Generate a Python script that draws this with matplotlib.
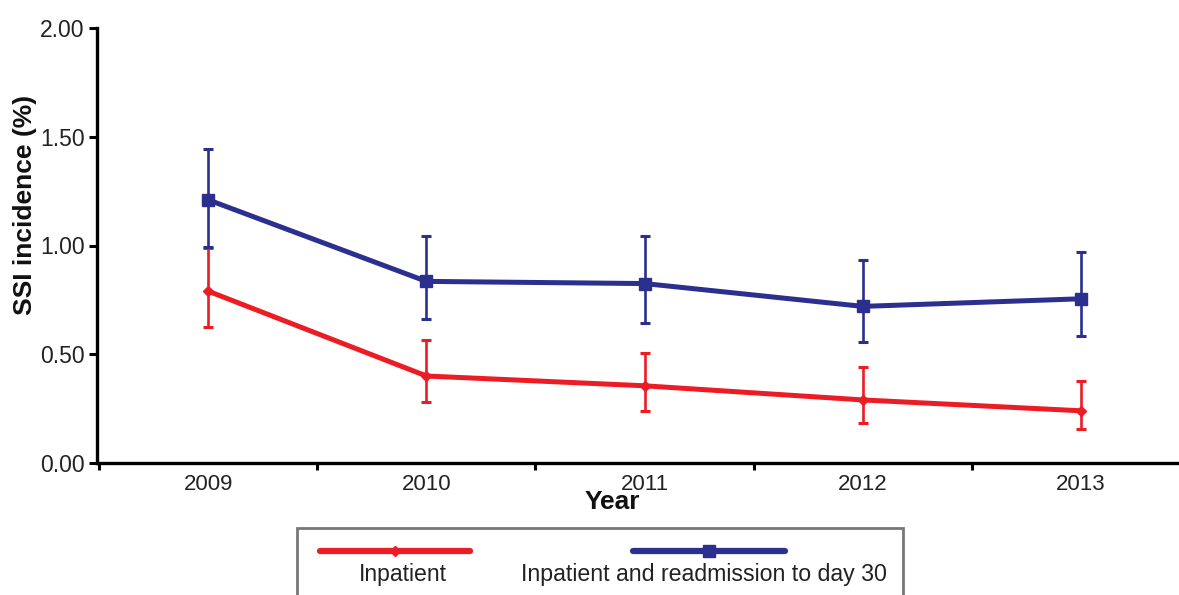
import matplotlib
matplotlib.use("Agg")
import matplotlib.pyplot as plt
from matplotlib.lines import Line2D
from matplotlib.patches import Rectangle

plt.rcParams['font.family'] = ['Liberation Sans', 'DejaVu Sans']

years = ['2009', '2010', '2011', '2012', '2013']
inpatient = [0.79, 0.40, 0.355, 0.29, 0.24]
inpatient_lo = [0.625, 0.28, 0.24, 0.185, 0.155]
inpatient_hi = [0.99, 0.565, 0.505, 0.44, 0.375]
readmit = [1.21, 0.835, 0.825, 0.72, 0.755]
readmit_lo = [0.995, 0.66, 0.645, 0.555, 0.585]
readmit_hi = [1.445, 1.045, 1.045, 0.935, 0.97]

red = '#ec1c24'
blue = '#2b2f8e'

W, H = 1179, 595
fig = plt.figure(figsize=(W / 100, H / 100), dpi=100)
ax = fig.add_axes([97 / W, 1 - 463 / H, (W - 97) / W, (463 - 28) / H])

x = list(range(len(years)))
err_red = [[v - l for v, l in zip(inpatient, inpatient_lo)],
           [h - v for v, h in zip(inpatient, inpatient_hi)]]
err_blue = [[v - l for v, l in zip(readmit, readmit_lo)],
            [h - v for v, h in zip(readmit, readmit_hi)]]

ax.errorbar(x, inpatient, yerr=err_red, color=red, lw=3.6, marker='D', ms=5,
            elinewidth=1.9, capsize=3.6, capthick=2.2, zorder=3)
ax.errorbar(x, readmit, yerr=err_blue, color=blue, lw=3.6, marker='s', ms=9,
            elinewidth=1.9, capsize=3.6, capthick=2.2, zorder=3)

ax.set_ylim(0, 2.0)
ax.set_xlim(-0.51, 4.45)
ax.set_yticks([0, 0.5, 1.0, 1.5, 2.0])
ax.set_yticklabels(['%.2f' % v for v in [0, 0.5, 1.0, 1.5, 2.0]])
ax.set_xticks([i + 0.5 for i in range(-1, 4)])
ax.set_xticklabels([])
ax.set_xticks(x, minor=True)
ax.set_xticklabels(years, minor=True)
ax.tick_params(axis='x', which='minor', length=0, pad=8, labelsize=16, colors='#222222')
ax.tick_params(axis='x', which='major', length=5, width=2.2, direction='out')
ax.tick_params(axis='y', length=6, width=2.2, labelsize=16.5, pad=3, labelcolor='#222222')

for s in ['top', 'right']:
    ax.spines[s].set_visible(False)
for s in ['left', 'bottom']:
    ax.spines[s].set_linewidth(2.4)

fig.text(25 / W, 1 - 205 / H, 'SSI incidence (%)', rotation=90, ha='center', va='center',
         fontsize=19, fontweight='bold', color='#111111')
fig.text(612 / W, 1 - 502 / H, 'Year', ha='center', va='center',
         fontsize=19, fontweight='bold', color='#111111')

# legend box below the plot
fig.patches.append(Rectangle((297 / W, -0.05), 606 / W, 1 - 528 / H + 0.05,
                             transform=fig.transFigure, fill=False, ec='#777777', lw=2))
ly = 1 - 551 / H
fig.lines.append(Line2D([320 / W, 470 / W], [ly, ly], transform=fig.transFigure,
                        color=red, lw=4.5, solid_capstyle='round'))
fig.lines.append(Line2D([395 / W], [ly], transform=fig.transFigure, color=red,
                        marker='D', ms=5, lw=0))
fig.lines.append(Line2D([633 / W, 785 / W], [ly, ly], transform=fig.transFigure,
                        color=blue, lw=4.5, solid_capstyle='round'))
fig.lines.append(Line2D([709 / W], [ly], transform=fig.transFigure, color=blue,
                        marker='s', ms=9, lw=0))
fig.text(403 / W, 1 - 574 / H, 'Inpatient', ha='center', va='center', fontsize=16.6,
         color='#222222')
fig.text(704 / W, 1 - 574 / H, 'Inpatient and readmission to day 30', ha='center',
         va='center', fontsize=16.7, color='#222222')

fig.savefig('out.png', dpi=100)
